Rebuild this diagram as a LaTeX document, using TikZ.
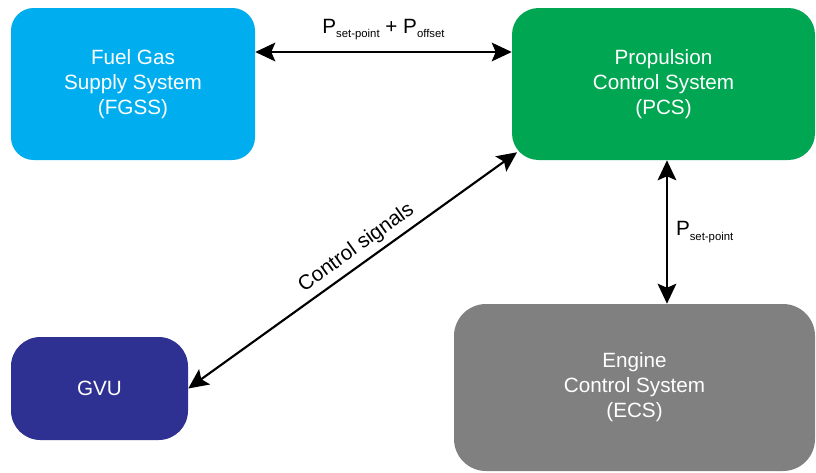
\documentclass[tikz,border=0pt]{standalone}
\usepackage{fontspec}
\setmainfont{Liberation Sans}
\usetikzlibrary{arrows.meta}
\definecolor{fgssblue}{HTML}{00AEEF}
\definecolor{pcsgreen}{HTML}{00A651}
\definecolor{gvublue}{HTML}{2E3192}
\definecolor{ecsgrey}{HTML}{808080}
\newcommand{\sbtxt}[1]{\raisebox{-3.6pt}{\fontsize{8.5}{10}\selectfont #1}}

\begin{document}
\begin{tikzpicture}[x=0.75pt, y=-0.75pt, every node/.style={font=\fontsize{15.5}{18.75}\selectfont},
	>={Stealth[length=15pt, width=14pt, inset=3pt]},
	sysbox/.style={fill=#1, text=white, align=center, inner sep=0pt},
	link/.style={<->, line width=1.6pt}, lbl/.style={inner sep=0pt}]
	\useasboundingbox (0,0) rectangle (816,472);
	\node[sysbox=fgssblue, minimum width=183pt, minimum height=114pt, rounded corners=17pt] (fgss) at (133,84) {Fuel Gas\\Supply System\\(FGSS)};
	\node[sysbox=pcsgreen, minimum width=227.25pt, minimum height=114pt, rounded corners=20pt] (pcs) at (663.5,84) {Propulsion\\Control System\\(PCS)};
	\node[sysbox=gvublue, minimum width=132.75pt, minimum height=77.25pt, rounded corners=22pt] (gvu) at (99.5,388.5) {GVU};
	\node[sysbox=ecsgrey, minimum width=270.75pt, minimum height=125.25pt, rounded corners=24pt] (ecs) at (634.5,387.5) {Engine\\Control System\\(ECS)};
	\draw[link] ([yshift=24pt]fgss.east) -- ([yshift=24pt]pcs.west)
		node[lbl, midway, above=8pt] {P\sbtxt{set-point} + P\sbtxt{offset}};
	\coordinate (pstop) at ([xshift=2.6pt]pcs.south);
	\draw[link] (pstop) -- (pstop |- ecs.north)
		node[lbl, midway, right=6pt] {P\sbtxt{set-point}};
	\draw[link] (gvu.east) -- ([shift={(4pt,6pt)}]pcs.south west)
		node[lbl, pos=0.54, sloped, above=4pt] {Control signals};
\end{tikzpicture}
\end{document}
